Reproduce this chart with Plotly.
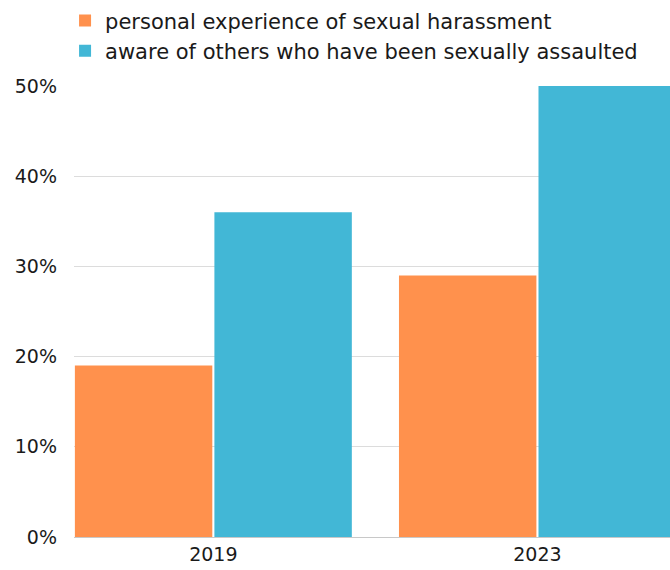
import plotly.graph_objects as go

years = ["2019", "2023"]
harassment = [19, 29]
aware_assault = [36, 50]
series_names = [
    "personal experience of sexual harassment",
    "aware of others who have been sexually assaulted",
]
y_ticks = [0, 10, 20, 30, 40, 50]
y_tick_labels = [f"{v}%" for v in y_ticks]

ORANGE = "#FF914D"
BLUE = "#42B7D6"
FONT = "'DejaVu Sans', 'Open Sans', sans-serif"

fig = go.Figure()
fig.add_trace(go.Bar(x=years, y=harassment, name=series_names[0],
                     marker=dict(color=ORANGE, line=dict(width=0))))
fig.add_trace(go.Bar(x=years, y=aware_assault, name=series_names[1],
                     marker=dict(color=BLUE, line=dict(width=0))))

fig.update_layout(
    width=670, height=570,
    margin=dict(l=74, r=0, t=86, b=33),
    plot_bgcolor="white", paper_bgcolor="white",
    barmode="group", bargap=0.139, bargroupgap=0.015,
    font=dict(family=FONT, size=19, color="#1a1a1a"),
    legend=dict(orientation="v", x=-0.015, xanchor="left", y=1.19, yanchor="top",
                font=dict(size=21), itemwidth=30, tracegroupgap=0,
                bgcolor="rgba(0,0,0,0)"),
    showlegend=True,
)
fig.update_xaxes(
    type="category", range=[-0.43, 1.409],
    showgrid=False, showline=True, linecolor="#c8c8c8", linewidth=1,
    ticks="", tickfont=dict(size=19),
)
fig.update_yaxes(
    range=[0, 50], tickvals=y_ticks, ticktext=y_tick_labels,
    showgrid=True, gridcolor="#dcdcdc", gridwidth=1,
    zeroline=False, showline=False, ticks="",
    ticklabelstandoff=16, tickfont=dict(size=19),
)

fig.write_html("out.html")
